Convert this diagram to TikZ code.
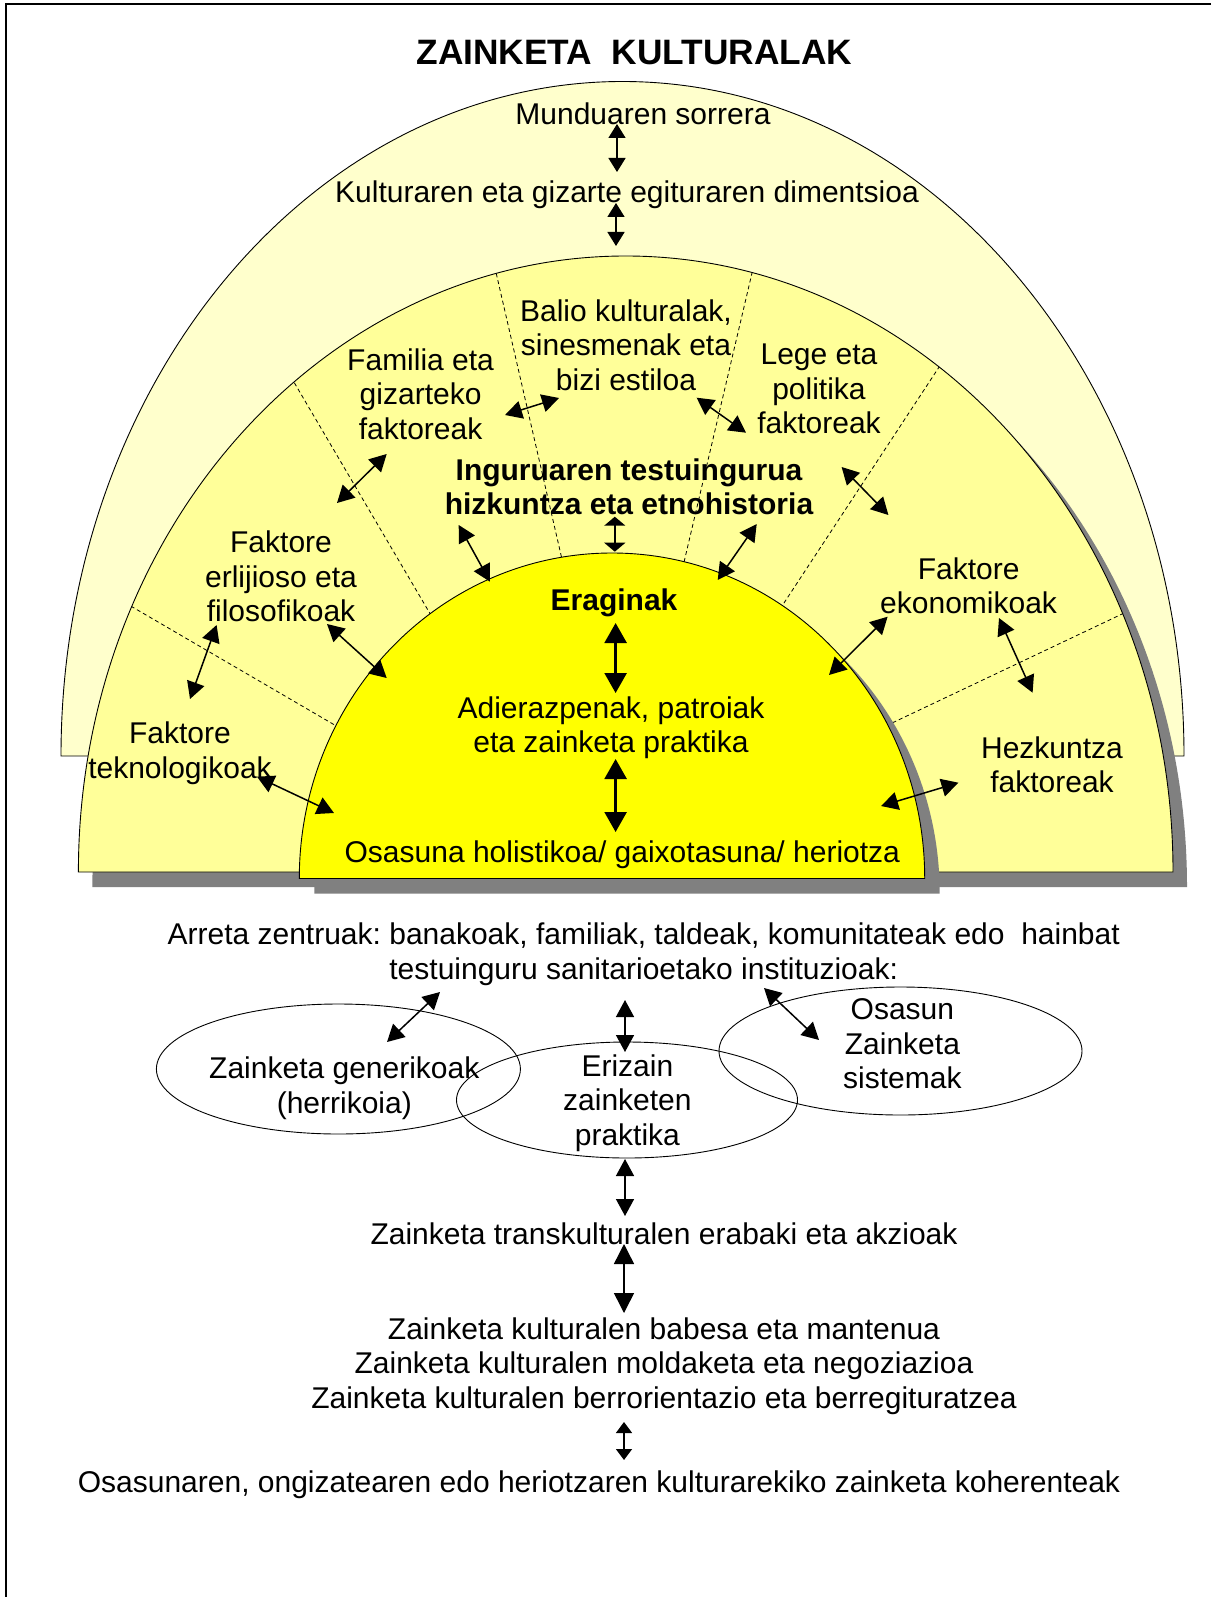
\documentclass[tikz,border=0pt]{standalone}
\usepackage{fontspec}
\setmainfont{Liberation Sans}
\usetikzlibrary{arrows.meta,calc}
\definecolor{outerband}{HTML}{FFFFCC}
\definecolor{midband}{HTML}{FFFF99}
\definecolor{core}{HTML}{FFFF00}
\definecolor{shadowgray}{HTML}{808080}
\frenchspacing
\begin{document}
\begin{tikzpicture}[x=1pt,y=-1pt,
  txt/.style={align=center, inner sep=0pt, yshift=-3pt, font=\fontsize{30}{34.5}\selectfont},
  btxt/.style={align=center, inner sep=0pt, yshift=-1.5pt, font=\fontsize{30}{34}\selectfont\bfseries},
  outline/.style={draw=black, line width=0.9pt},
  sep/.style={draw=black, line width=0.8pt, dash pattern=on 4pt off 3pt},
  arw/.style={line width=1.5pt, <->, >={Triangle[length=17pt,width=18pt]}},
  arwbig/.style={line width=2.5pt, <->, >={Triangle[length=20pt,width=22pt]}},
  arwflat/.style={line width=1.5pt, <->, >={Triangle[length=9pt,width=21pt]}},
  arwsmall/.style={line width=1.5pt, <->, >={Triangle[length=14pt,width=17pt]}},
  arwtiny/.style={line width=1.5pt, <->, >={Triangle[length=11pt,width=16pt]}},
  ring/.style={draw=black, line width=0.9pt}
]
\useasboundingbox (0,0) rectangle (1211,1597);
\fill[white] (0,0) rectangle (1211,1597);
% page frame (top and left edges)
\draw[line width=2.2pt] (1211,4) -- (6,4) -- (6,1597);

% title
\node[btxt, font=\fontsize{35.3}{40}\selectfont\bfseries] (title) at (634.5,51) {ZAINKETA~~KULTURALAK};

% outer band
\filldraw[fill=outerband, outline] (61,756) arc[start angle=180, end angle=360, x radius=561.5, y radius=674.5] -- cycle;
% middle band with its shadow
\fill[fill=shadowgray] (92.4,887) arc[start angle=180, end angle=360, x radius=547.3, y radius=616] -- cycle;
\filldraw[fill=midband, outline] (78.4,872) arc[start angle=180, end angle=360, x radius=547.3, y radius=616] -- cycle;
% sector boundaries
\coordinate (d1a) at (495,268);    \coordinate (d1b) at (561,555);
\coordinate (d2a) at (752,273);    \coordinate (d2b) at (685,558);
\coordinate (d3a) at (293.7,381.7);\coordinate (d3b) at (428.9,611.7);
\coordinate (d4a) at (936,371.7);  \coordinate (d4b) at (782,606);
\coordinate (d5a) at (132.4,607);  \coordinate (d5b) at (329,721.7);
\coordinate (d6a) at (1120,615);   \coordinate (d6b) at (892,723);
\begin{scope}
  \clip (78.4,872) arc[start angle=180, end angle=360, x radius=547.3, y radius=616] -- cycle;
  \foreach \s in {1,...,6}{
    \draw[sep] ($(d\s a)!-0.1!(d\s b)$) -- ($(d\s b)!-0.04!(d\s a)$);
  }
\end{scope}
% inner core with its shadow
\fill[fill=shadowgray] (314.3,893.5) arc[start angle=180, end angle=360, x radius=312.7, y radius=325.5] -- cycle;
\filldraw[fill=core, outline] (299.3,878.5) arc[start angle=180, end angle=360, x radius=312.7, y radius=325.5] -- cycle;

% outer band texts
\node[txt] (mund) at (643,111) {Munduaren sorrera};
\node[txt] (kult) at (627,192) {Kulturaren eta gizarte egituraren dimentsioa};
\coordinate (m1a) at (617,124); \coordinate (m1b) at (617,172);
\coordinate (m2a) at (616,203); \coordinate (m2b) at (616,246);
\draw[arwsmall] (m1a) -- (m1b);
\draw[arwsmall] (m2a) -- (m2b);

% middle band texts
\node[txt] (balio) at (626,342) {Balio kulturalak,\\sinesmenak eta\\bizi estiloa};
\node[txt] (famil) at (420.6,391) {Familia eta\\gizarteko\\faktoreak};
\node[txt] (lege) at (819,386) {Lege eta\\politika\\faktoreak};
\node[btxt] (ingur) at (629,485) {Inguruaren testuingurua\\hizkuntza eta etnohistoria};
\node[txt] (erlij) at (281,573.5) {Faktore\\erlijioso eta\\filosofikoak};
\node[txt] (ekono) at (968.6,583) {Faktore\\ekonomikoak};
\node[txt] (tekno) at (180,750) {Faktore\\teknologikoak};
\node[txt] (hezku) at (1052,762) {Hezkuntza\\faktoreak};

% core texts
\node[btxt] (eragi) at (614,601) {Eraginak};
\node[txt] (adier) at (611,724.5) {Adierazpenak, patroiak\\eta zainketa praktika};
\node[txt] (osasu) at (622.3,852) {Osasuna holistikoa/ gaixotasuna/ heriotza};

% arrows inside the arches
\coordinate (fb1) at (505,415);     \coordinate (fb2) at (559,398);
\coordinate (bl1) at (696.6,397.7); \coordinate (bl2) at (746,432.7);
\coordinate (fe1) at (386.7,454);   \coordinate (fe2) at (337,503);
\coordinate (il1) at (458.7,525);   \coordinate (il2) at (490,581.7);
\coordinate (ic1) at (614.8,516.7); \coordinate (ic2) at (614.8,551.7);
\coordinate (ir1) at (756.7,524);   \coordinate (ir2) at (717.7,580);
\coordinate (le1) at (841.6,467);   \coordinate (le2) at (888.4,515);
\coordinate (et1) at (216.6,625);   \coordinate (et2) at (190,699);
\coordinate (ei1) at (327,624);     \coordinate (ei2) at (386.7,678);
\coordinate (ti1) at (257,776.7);   \coordinate (ti2) at (334,813);
\coordinate (ki1) at (887.6,616.7); \coordinate (ki2) at (829,675);
\coordinate (kh1) at (999,618);     \coordinate (kh2) at (1032.6,692.7);
\coordinate (hi1) at (958.5,782.7); \coordinate (hi2) at (881,806);
\coordinate (ea1) at (615.6,623);   \coordinate (ea2) at (615.6,693);
\coordinate (ao1) at (615.6,759);   \coordinate (ao2) at (615.6,832);
\draw[arw] (fb1) -- (fb2);
\draw[arw] (bl1) -- (bl2);
\draw[arw] (fe1) -- (fe2);
\draw[arw] (il1) -- (il2);
\draw[arwflat] (ic1) -- (ic2);
\draw[arw] (ir1) -- (ir2);
\draw[arw] (le1) -- (le2);
\draw[arw] (et1) -- (et2);
\draw[arw] (ei1) -- (ei2);
\draw[arw] (ti1) -- (ti2);
\draw[arw] (ki1) -- (ki2);
\draw[arw] (kh1) -- (kh2);
\draw[arw] (hi1) -- (hi2);
\draw[arwbig] (ea1) -- (ea2);
\draw[arwbig] (ao1) -- (ao2);

% lower part
\node[txt] (arret) at (643.7,951) {Arreta zentruak: banakoak, familiak, taldeak, komunitateak edo~ hainbat\\testuinguru sanitarioetako instituzioak:};
\draw[ring] (338.4,1069) ellipse[x radius=182, y radius=65];
\draw[ring] (627,1100) ellipse[x radius=170.5, y radius=58];
\draw[ring] (900.5,1051) ellipse[x radius=181.5, y radius=64];
\node[txt] (gener) at (344.3,1085) {Zainketa generikoak\\(herrikoia)};
\node[txt] (eriza) at (627.4,1100) {Erizain\\zainketen\\praktika};
\node[txt] (siste) at (902.4,1041) {Osasun\\Zainketa\\sistemak};
\coordinate (g1a) at (440,992);  \coordinate (g1b) at (387,1042);
\coordinate (g2a) at (625,1000); \coordinate (g2b) at (625,1052);
\coordinate (g3a) at (764,988);  \coordinate (g3b) at (819,1040);
\draw[arw] (g1a) -- (g1b);
\draw[arw] (g2a) -- (g2b);
\draw[arw] (g3a) -- (g3b);
\coordinate (b1a) at (625,1159); \coordinate (b1b) at (625,1216);
\draw[arw] (b1a) -- (b1b);
\node[txt] (trans) at (664,1231) {Zainketa transkulturalen erabaki eta akzioak};
\coordinate (b2a) at (624,1244); \coordinate (b2b) at (624,1313);
\draw[arw, >={Triangle[length=20pt,width=20pt]}] (b2a) -- (b2b);
\node[txt] (babes) at (664,1363) {Zainketa kulturalen babesa eta mantenua\\Zainketa kulturalen moldaketa eta negoziazioa\\Zainketa kulturalen berrorientazio eta berregituratzea};
\coordinate (b3a) at (624,1422); \coordinate (b3b) at (624,1460);
\draw[arwtiny] (b3a) -- (b3b);
\node[txt] (koher) at (599,1482) {Osasunaren, ongizatearen edo heriotzaren kulturarekiko zainketa koherenteak};
\end{tikzpicture}
\end{document}
